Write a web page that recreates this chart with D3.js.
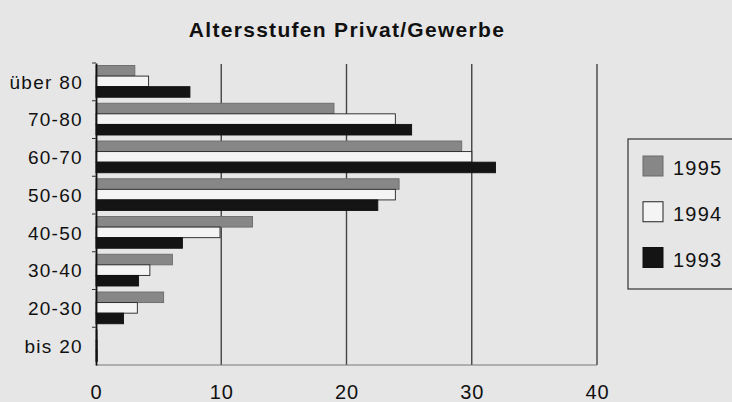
<!DOCTYPE html>
<html><head><meta charset="utf-8">
<script src="https://cdn.jsdelivr.net/npm/d3@7"></script>
<style>
html,body{margin:0;padding:0;background:#e6e6e6;}
svg{display:block;font-family:"Liberation Sans",Arial,sans-serif;}
</style></head>
<body>
<svg id="chart" width="732" height="402"></svg>
<script>
const title = "Altersstufen Privat/Gewerbe";
const categories = ["über 80","70-80","60-70","50-60","40-50","30-40","20-30","bis 20"];
const seriesNames = ["1995","1994","1993"];
const values1995 = [3.1, 19.0, 29.2, 24.2, 12.5, 6.1, 5.4, 0.1];
const values1994 = [4.2, 23.9, 30.0, 23.9, 9.9, 4.3, 3.3, 0.1];
const values1993 = [7.5, 25.2, 31.9, 22.5, 6.9, 3.4, 2.2, 0.1];
const xTicks = [0, 10, 20, 30, 40];

const seriesValues = [values1995, values1994, values1993];
const fills = ["#878787", "#f4f4f4", "#141414"];
const strokes = ["#6a6a6a", "#222", "#111"];

const svg = d3.select("#chart");
svg.append("rect").attr("width",732).attr("height",402).attr("fill","#e6e6e6");

const x = d3.scaleLinear().domain([0,40]).range([96,597]);
const y = d3.scaleBand().domain(categories).range([63,365]).padding(0);
const ySub = d3.scaleBand().domain(seriesNames).range([2.5, y.bandwidth()-3.5]).padding(0);

// title
svg.append("text").attr("x",347).attr("y",37).attr("text-anchor","middle")
  .attr("font-size",21).attr("font-weight","bold").attr("fill","#111")
  .attr("letter-spacing",1.3).text(title);

// gridlines
svg.append("g").selectAll("line").data(xTicks.slice(1)).join("line")
  .attr("x1",d=>x(d)).attr("x2",d=>x(d)).attr("y1",64).attr("y2",365)
  .attr("stroke","#444").attr("stroke-width",1.4);

// bottom axis line
svg.append("line").attr("x1",x(0)).attr("x2",x(40)).attr("y1",365).attr("y2",365)
  .attr("stroke","#777").attr("stroke-width",1.2);

// bars
const rows = categories.map((c,i)=>({cat:c, vals:seriesNames.map((s,j)=>({s, j, v:seriesValues[j][i]}))}));
const g = svg.append("g");
g.selectAll("g").data(rows).join("g")
  .attr("transform",d=>`translate(0,${y(d.cat)})`)
  .selectAll("rect").data(d=>d.vals).join("rect")
  .attr("x",x(0)).attr("y",d=>ySub(d.s)).attr("height",ySub.bandwidth())
  .attr("width",d=>x(d.v)-x(0))
  .attr("fill",d=>fills[d.j]).attr("stroke",d=>strokes[d.j]).attr("stroke-width",0.9);

// left axis
const yAxis = d3.axisLeft(y).tickSize(0).tickPadding(13);
const ya = svg.append("g").attr("transform",`translate(${x(0)},0)`).call(yAxis);
ya.select(".domain").attr("stroke","#111").attr("stroke-width",1.8);
ya.selectAll("text").attr("font-size",19).attr("fill","#111").attr("dy","0.35em")
  .attr("letter-spacing",1.3)
  .attr("font-family","Liberation Sans, Arial, sans-serif");
// category boundary ticks
svg.append("g").selectAll("line").data(categories).join("line")
  .attr("x1",x(0)-4).attr("x2",x(0)).attr("y1",d=>y(d)).attr("y2",d=>y(d))
  .attr("stroke","#333").attr("stroke-width",1);

// bottom tick labels
const xAxis = d3.axisBottom(x).tickValues(xTicks).tickSize(0).tickPadding(20);
const xa = svg.append("g").attr("transform","translate(0,365)").call(xAxis);
xa.select(".domain").remove();
xa.selectAll("text").attr("font-size",20).attr("fill","#111").attr("letter-spacing",1)
  .attr("font-family","Liberation Sans, Arial, sans-serif");

// legend
const lg = svg.append("g");
lg.append("rect").attr("x",628).attr("y",139).attr("width",120).attr("height",150)
  .attr("fill","none").attr("stroke","#333").attr("stroke-width",1.2);
const ly = d3.scalePoint().domain(seriesNames).range([166,257.5]);
const items = lg.selectAll("g.item").data(seriesNames).join("g").attr("class","item")
  .attr("transform",d=>`translate(643,${ly(d)})`);
items.append("rect").attr("x",0).attr("y",-10).attr("width",20).attr("height",20)
  .attr("fill",(d,i)=>fills[i]).attr("stroke",(d,i)=>strokes[i]).attr("stroke-width",1);
items.append("text").attr("x",30).attr("y",9).attr("font-size",20).attr("fill","#111")
  .attr("letter-spacing",1.2).text(d=>d);
</script>
</body></html>
